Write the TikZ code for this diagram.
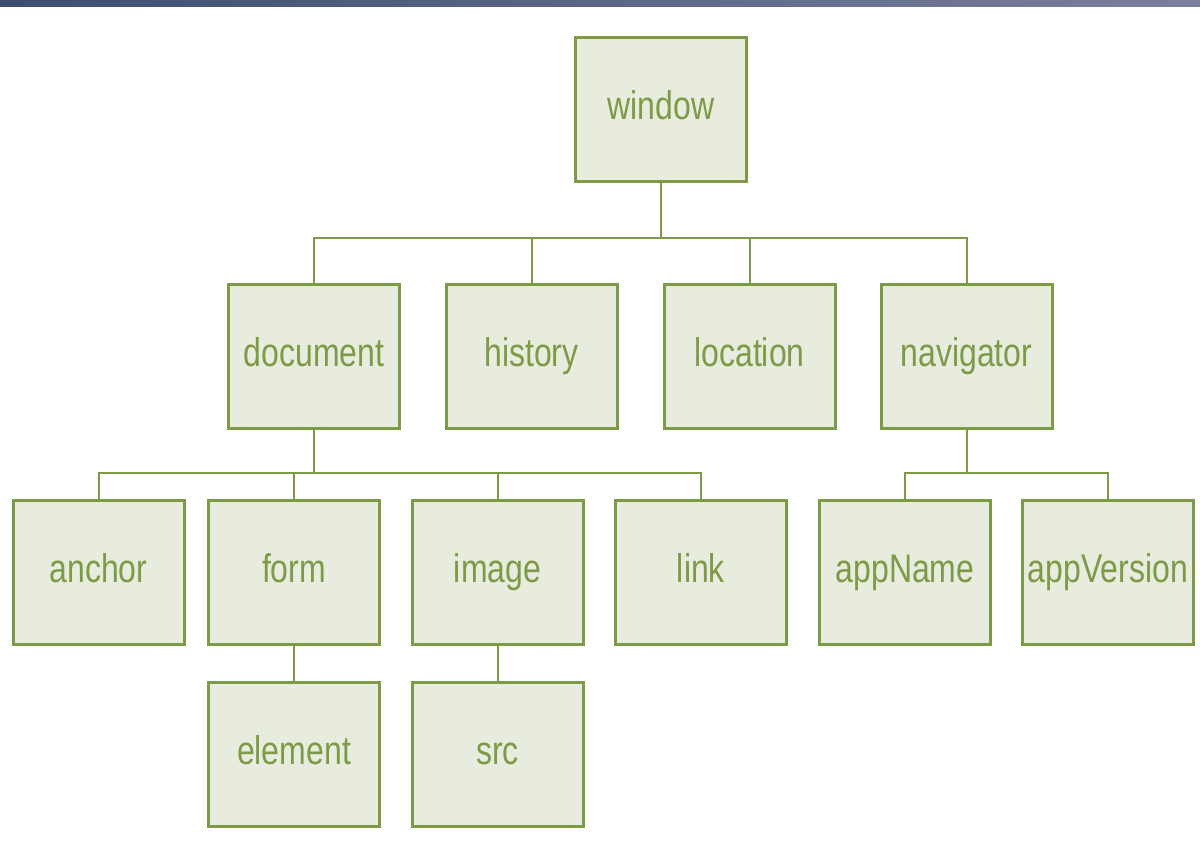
\documentclass[tikz,border=0pt]{standalone}
\usepackage{fontspec}
\setmainfont{Liberation Sans}[FakeStretch=0.8]
\usetikzlibrary{calc}

\definecolor{boxfill}{HTML}{E8ECDE}
\definecolor{boxline}{HTML}{7D9B47}
\definecolor{bartop}{HTML}{3D4D70}
\definecolor{barend}{HTML}{7A809D}

\tikzset{
	objbox/.style={draw=boxline, fill=boxfill, line width=1.5pt, inner sep=0pt,
		minimum width=85.5pt, minimum height=72pt, text=boxline,
		text height=14pt, text depth=4pt,
		font=\fontsize{20}{24}\selectfont},
	link/.style={draw=boxline, line width=1pt}
}

\begin{document}
\begin{tikzpicture}[x=0.5pt, y=-0.5pt]
	\useasboundingbox (0,0) rectangle (1200,851);

	%top bar
	\shade[left color=bartop, right color=barend] (0,0) rectangle (1200,6);

	%objects
	\node[objbox] (window) at (661,109.5) {window};

	\node[objbox] (document) at (314,356) {document};
	\node[objbox] (history) at (531.5,356) {history};
	\node[objbox] (location) at (749.5,356) {location};
	\node[objbox] (navigator) at (966.5,356) {navigator};

	\node[objbox] (anchor) at (98.5,572.5) {anchor};
	\node[objbox] (form) at (294,572.5) {form};
	\node[objbox] (image) at (497.5,572.5) {image};
	\node[objbox] (link) at (701,572.5) {link};
	\node[objbox] (appName) at (905,572.5) {appName};
	\node[objbox] (appVersion) at (1108,572.5) {appVersion};

	\node[objbox] (element) at (294,754.5) {element};
	\node[objbox] (src) at (497.5,754.5) {src};

	%bus lines
	\coordinate (wbus) at (661,238);
	\coordinate (dbus) at (314,473);
	\coordinate (nbus) at (966.5,473);

	\draw[link] (window.south) -- (wbus);
	\draw[link] (document.north) |- (wbus);
	\draw[link] (history.north) |- (wbus);
	\draw[link] (location.north) |- (wbus);
	\draw[link] (navigator.north) |- (wbus);

	\draw[link] (document.south) -- (dbus);
	\draw[link] (anchor.north) |- (dbus);
	\draw[link] (form.north) |- (dbus);
	\draw[link] (image.north) |- (dbus);
	\draw[link] (link.north) |- (dbus);

	\draw[link] (navigator.south) -- (nbus);
	\draw[link] (appName.north) |- (nbus);
	\draw[link] (appVersion.north) |- (nbus);

	\draw[link] (form) -- (element);
	\draw[link] (image) -- (src);

\end{tikzpicture}
\end{document}
